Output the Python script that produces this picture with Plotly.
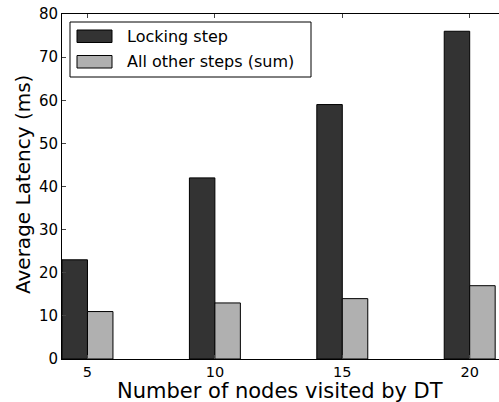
import plotly.graph_objects as go

nodes = [5, 10, 15, 20]
locking = [23, 42, 59, 76]
others = [11, 13, 14, 17]
series_names = ["Locking step", "All other steps (sum)"]
colors = ["#333333", "#b0b0b0"]
x_title = "Number of nodes visited by DT"
y_title = "Average Latency (ms)"

fig = go.Figure()
fig.add_trace(go.Bar(x=nodes, y=locking, name=series_names[0], width=1, offset=-1,
                     marker=dict(color=colors[0], line=dict(color="black", width=1)),
                     showlegend=False))
fig.add_trace(go.Bar(x=nodes, y=others, name=series_names[1], width=1, offset=0,
                     marker=dict(color=colors[1], line=dict(color="black", width=1)),
                     showlegend=False))

font = "DejaVu Sans"
fig.update_layout(
    width=499, height=402,
    margin=dict(l=62, r=0, t=14, b=43),
    plot_bgcolor="white", paper_bgcolor="white",
    barmode="overlay",
    font=dict(family=font, color="black"),
    xaxis=dict(range=[4, 21.15], tickvals=nodes, ticks="inside", ticklen=4,
               showline=True, linecolor="black", linewidth=1, mirror="ticks",
               showgrid=False, zeroline=False, tickfont=dict(size=14.5)),
    yaxis=dict(range=[0, 80], dtick=10, ticks="inside", ticklen=4,
               showline=True, linecolor="black", linewidth=1, mirror=False,
               showgrid=False, zeroline=False, tickfont=dict(size=15)),
)

def px_x(p):
    return (p - 62) / 437.0

def px_y(p):
    return 1 - (p - 14) / 345.0

# Axis titles
fig.add_annotation(xref="paper", yref="paper", x=px_x(280), y=px_y(391),
                   text=x_title, showarrow=False, xanchor="center", yanchor="middle",
                   borderpad=0, font=dict(size=21, family=font, color="black"))
fig.add_annotation(xref="paper", yref="paper", x=px_x(23), y=px_y(185),
                   text=y_title, showarrow=False, xanchor="center", yanchor="middle",
                   textangle=-90, font=dict(size=20, family=font, color="black"))

# Legend (drawn in paper coordinates)
fig.add_shape(type="rect", xref="paper", yref="paper",
              x0=px_x(70), x1=px_x(311), y0=px_y(77), y1=px_y(22),
              line=dict(color="black", width=1), fillcolor="white")
patches = [(30, 42.5, 36.5), (55.5, 68, 62)]
for (ya, yb, yc), name, col in zip(patches, series_names, colors):
    fig.add_shape(type="rect", xref="paper", yref="paper",
                  x0=px_x(77), x1=px_x(112), y0=px_y(yb), y1=px_y(ya),
                  line=dict(color="black", width=1), fillcolor=col)
    fig.add_annotation(xref="paper", yref="paper", x=px_x(125), y=px_y(yc),
                       text=name, showarrow=False, xanchor="left", yanchor="middle",
                       font=dict(size=16, family=font, color="black"))

fig.write_html("out.html")
